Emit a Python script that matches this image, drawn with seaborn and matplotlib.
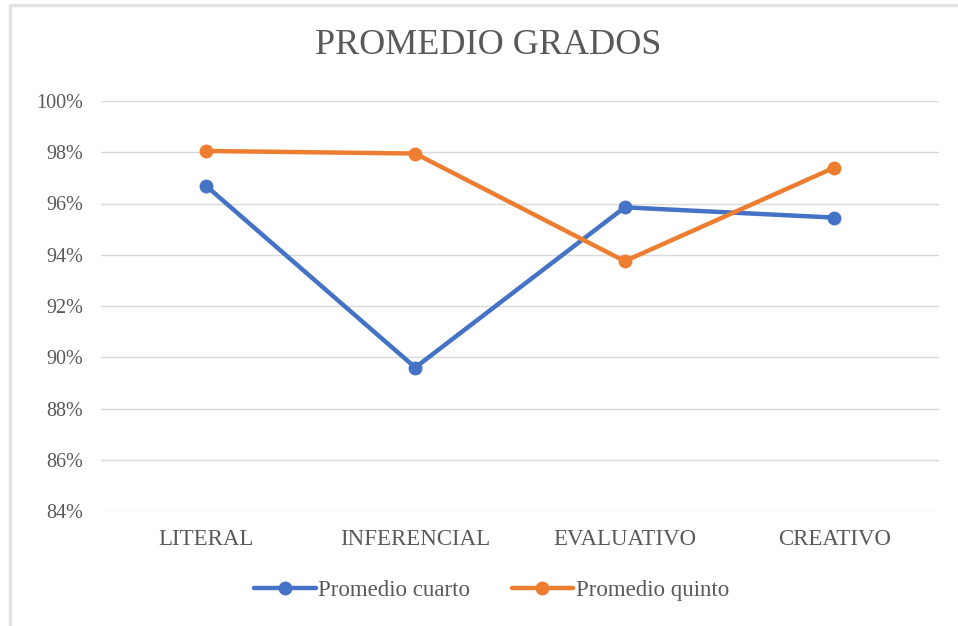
import pandas as pd
import numpy as np
import matplotlib.pyplot as plt
import seaborn as sns
from matplotlib.ticker import PercentFormatter

# Values (in %)
categories = ['LITERAL', 'INFERENCIAL', 'EVALUATIVO', 'CREATIVO']
cuarto = [96.7, 89.6, 95.85, 95.45]
quinto = [98.05, 97.95, 93.75, 97.4]

df = pd.DataFrame({
    'Dimension': categories * 2,
    'Valor': cuarto + quinto,
    'Serie': ['Promedio cuarto'] * 4 + ['Promedio quinto'] * 4,
})

sns.set_theme(style='white')
plt.rcParams['font.family'] = ['Liberation Serif', 'DejaVu Serif']
gray = '#595959'

fig = plt.figure(figsize=(9.58, 6.26), dpi=100)
ax = fig.add_axes([101 / 958, 1 - 511 / 626, 838 / 958, 410 / 626])

sns.lineplot(data=df, x='Dimension', y='Valor', hue='Serie',
             palette=['#4472C4', '#ED7D31'], marker='o', markersize=10,
             markeredgewidth=0, linewidth=3.2, sort=False, ax=ax)

ax.set_xlim(-0.5, 3.5)
ax.set_ylim(84, 100)
ax.set_yticks(np.arange(84, 101, 2))
ax.yaxis.set_major_formatter(PercentFormatter(decimals=0))
ax.grid(axis='y', color='#d9d9d9', linewidth=1)
ax.set_axisbelow(True)
for s in ax.spines.values():
    s.set_visible(False)
ax.tick_params(axis='y', length=0, labelsize=14.5, colors=gray, pad=13)
ax.tick_params(axis='x', length=0, labelsize=16.5, colors=gray, pad=13)
ax.set_xlabel('')
ax.set_ylabel('')

fig.text(488 / 958, 1 - 46 / 626, 'PROMEDIO GRADOS', ha='center', va='center',
         fontsize=26, color=gray)

leg = ax.legend(loc='center', bbox_to_anchor=(0.466, -0.195), ncol=2, frameon=False,
                fontsize=16.5, handlelength=2.7, handletextpad=0.1, columnspacing=1.8)
for t in leg.get_texts():
    t.set_color(gray)

# light border at top and left like the original screenshot
fig.add_artist(plt.Line2D([10 / 958, 1], [1 - 5 / 626] * 2, color='#e3e3e3', linewidth=2.5))
fig.add_artist(plt.Line2D([10 / 958] * 2, [0, 1 - 5 / 626], color='#e3e3e3', linewidth=2.5))

fig.savefig('out.png', dpi=100)
